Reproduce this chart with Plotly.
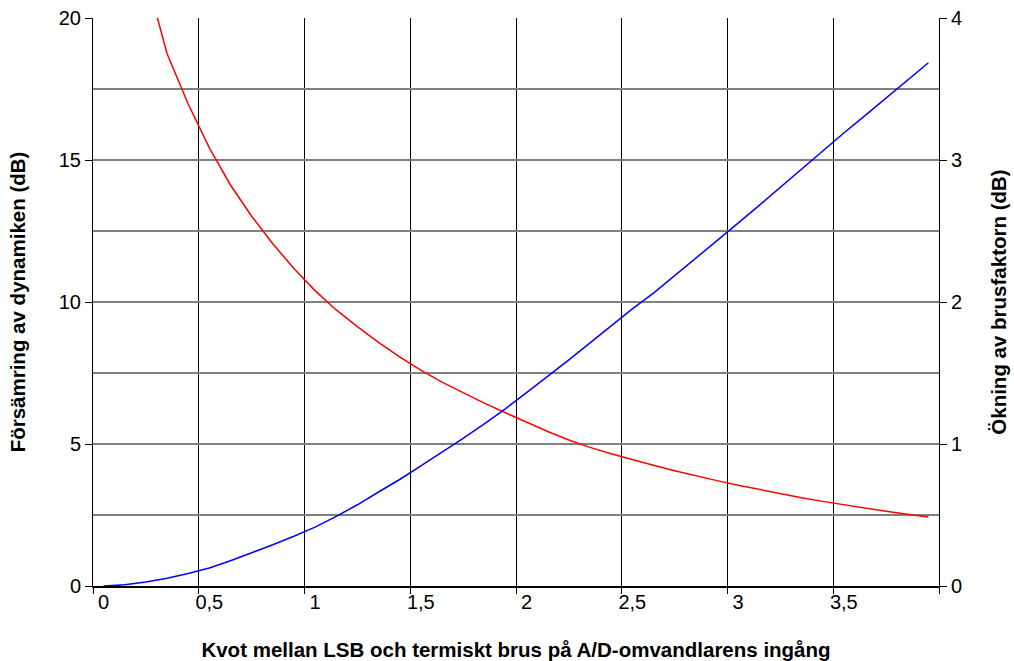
import plotly.graph_objects as go

# Kvot mellan LSB och termiskt brus (kategorier 0 ... 3,9)
kvot = [0.0, 0.1, 0.2, 0.3, 0.4, 0.5, 0.6, 0.7, 0.8, 0.9,
        1.0, 1.1, 1.2, 1.3, 1.4, 1.5, 1.6, 1.7, 1.8, 1.9,
        2.0, 2.1, 2.2, 2.3, 2.4, 2.5, 2.6, 2.7, 2.8, 2.9,
        3.0, 3.1, 3.2, 3.3, 3.4, 3.5, 3.6, 3.7, 3.8, 3.9]

# Försämring av dynamiken (dB), vänster axel
forsamring_db = [None, None, 21.5, 18.75, 16.97, 15.43, 14.12, 13.02, 12.05, 11.18,
                 10.40, 9.72, 9.13, 8.58, 8.07, 7.60, 7.18, 6.80, 6.44, 6.10,
                 5.77, 5.44, 5.14, 4.88, 4.66, 4.45, 4.25, 4.06, 3.88, 3.71,
                 3.55, 3.40, 3.25, 3.11, 2.98, 2.86, 2.74, 2.63, 2.53, 2.43]

# Ökning av brusfaktorn (dB), höger axel
okning_db = [0.0, 0.008, 0.028, 0.055, 0.088, 0.127, 0.178, 0.232, 0.29, 0.35,
             0.415, 0.49, 0.572, 0.662, 0.75, 0.846, 0.942, 1.04, 1.142, 1.248,
             1.362, 1.475, 1.592, 1.712, 1.831, 1.951, 2.062, 2.184, 2.307, 2.431,
             2.555, 2.68, 2.808, 2.935, 3.062, 3.19, 3.313, 3.436, 3.56, 3.685]

x_tick_vals = [0, 0.5, 1, 1.5, 2, 2.5, 3, 3.5]
x_tick_text = ["0", "0,5", "1", "1,5", "2", "2,5", "3", "3,5"]
y_left_ticks = [0, 5, 10, 15, 20]
y_right_ticks = [0, 1, 2, 3, 4]

FONT = "Liberation Sans, Arial, sans-serif"
TICK_FONT = dict(family=FONT, size=20, color="black")
TITLE_FONT = dict(family=FONT, size=20.5, color="black", weight="bold")

fig = go.Figure()

fig.add_trace(go.Scatter(
    x=kvot, y=forsamring_db, mode="lines", name="Försämring av dynamiken",
    line=dict(color="#FF0000", width=1.5), yaxis="y", connectgaps=False,
))
fig.add_trace(go.Scatter(
    x=kvot, y=okning_db, mode="lines", name="Ökning av brusfaktorn",
    line=dict(color="#0000FF", width=1.5), yaxis="y2",
))

fig.update_layout(
    width=1014, height=661, autosize=False,
    margin=dict(l=93, r=75, t=18, b=75, autoexpand=False),
    paper_bgcolor="white", plot_bgcolor="white",
    showlegend=False,
    xaxis=dict(
        range=[-0.05, 3.95], automargin=False,
        tickvals=x_tick_vals, ticktext=x_tick_text,
        ticks="", tickfont=TICK_FONT, ticklabelstandoff=-3,
        showgrid=False, zeroline=False,
        showline=True, linecolor="black", linewidth=1.5,
        minor=dict(tick0=-0.05, dtick=0.5, showgrid=True, gridcolor="black",
                   gridwidth=1, ticks="outside", ticklen=6, tickcolor="black"),
        title=dict(text="Kvot mellan LSB och termiskt brus på A/D-omvandlarens ingång",
                   font=TITLE_FONT, standoff=32),
    ),
    yaxis=dict(
        range=[0, 20], tickvals=y_left_ticks, automargin=False,
        ticks="outside", ticklen=7, tickcolor="black",
        tickfont=TICK_FONT,
        showgrid=True, gridcolor="#808080", gridwidth=1.5,
        minor=dict(dtick=2.5, showgrid=True, gridcolor="#808080", gridwidth=1.5),
        zeroline=False,
        showline=True, linecolor="black", linewidth=1,
        title=dict(text="Försämring av dynamiken (dB)", font=TITLE_FONT, standoff=27),
    ),
    yaxis2=dict(
        range=[0, 4], tickvals=y_right_ticks, automargin=False,
        overlaying="y", side="right",
        ticks="outside", ticklen=7, tickcolor="black",
        tickfont=TICK_FONT,
        showgrid=False, zeroline=False,
        showline=True, linecolor="black", linewidth=1,
        title=dict(text="Ökning av brusfaktorn (dB)", font=TITLE_FONT, standoff=30),
    ),
)

fig.write_html("out.html")
